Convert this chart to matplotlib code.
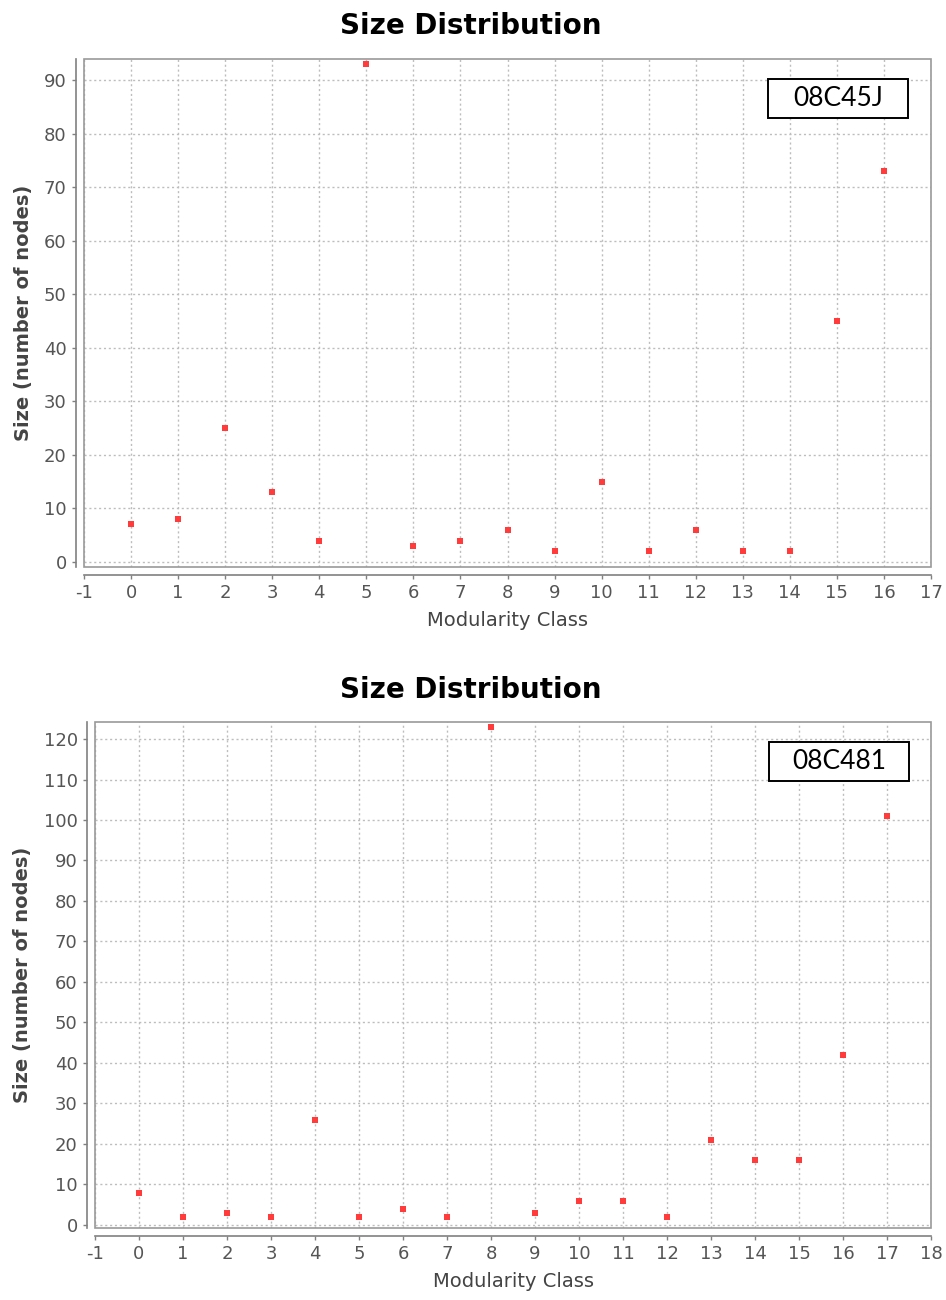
import matplotlib.pyplot as plt
from matplotlib import patches

plt.rcParams["axes.unicode_minus"] = False

# ---- data ----
classes_a = list(range(17))
sizes_a = [7, 8, 25, 13, 4, 93, 3, 4, 6, 2, 15, 2, 6, 2, 2, 45, 73]
label_a = "08C45J"

classes_b = list(range(18))
sizes_b = [8, 2, 3, 2, 26, 2, 4, 2, 123, 3, 6, 6, 2, 21, 16, 16, 42, 101]
label_b = "08C481"

title = "Size Distribution"
xlabel = "Modularity Class"
ylabel = "Size (number of nodes)"

W, H = 946, 1300
fig = plt.figure(figsize=(W / 100, H / 100), dpi=100)


def px_box(left, top, right, bottom):
    """Convert pixel box to figure fraction rect."""
    return [left / W, 1 - bottom / H, (right - left) / W, (bottom - top) / H]


def draw_panel(ax, x, y, xlim, ylim, yticks, tag):
    ax.set_xlim(*xlim)
    ax.set_ylim(*ylim)
    ax.set_xticks(range(int(xlim[0]), int(xlim[1]) + 1))
    ax.set_yticks(yticks)
    ax.grid(True, color="#bdbdbd", linestyle=(0, (1.5, 2)), linewidth=1.0)
    ax.set_axisbelow(True)

    ax.scatter(x, y, marker="s", s=14, color="#ff3b3b", linewidths=0, zorder=3)

    # offset axis lines (JFreeChart style) plus a frame round the plot area
    for side in ("left", "bottom"):
        ax.spines[side].set_position(("outward", 6))
        ax.spines[side].set_color("#808080")
        ax.spines[side].set_linewidth(1.2)
    for side in ("top", "right"):
        ax.spines[side].set_visible(False)
    ax.add_patch(
        patches.Rectangle(
            (0, 0), 1, 1, transform=ax.transAxes, fill=False,
            edgecolor="#9a9a9a", linewidth=1.2, clip_on=False, zorder=4,
        )
    )

    ax.tick_params(axis="both", colors="#808080", length=3, width=1,
                   labelcolor="#555555", labelsize=13)
    ax.set_xlabel(xlabel, fontsize=14, color="#444444", labelpad=6)
    ax.set_ylabel(ylabel, fontsize=14, color="#444444", fontweight="bold",
                  labelpad=8)

    # sample tag box
    bw, bh = 140 / (ax.bbox.width), 39 / (ax.bbox.height)
    cx, cy = 0.890, 0.922
    ax.add_patch(
        patches.Rectangle(
            (cx - bw / 2, cy - bh / 2), bw, bh, transform=ax.transAxes,
            facecolor="white", edgecolor="black", linewidth=1.4, zorder=5,
        )
    )
    ax.text(cx, cy, tag, transform=ax.transAxes, ha="center", va="center",
            fontsize=19, family="Lato", color="black", zorder=6)


ax1 = fig.add_axes(px_box(84, 59, 931, 567))
draw_panel(ax1, classes_a, sizes_a, (-1, 17), (-0.95, 94.0),
           range(0, 91, 10), label_a)
fig.text(471 / W, 1 - 26 / H, title, ha="center", va="center",
         fontsize=20, fontweight="bold", color="black")

ax2 = fig.add_axes(px_box(95, 722, 931, 1228))
draw_panel(ax2, classes_b, sizes_b, (-1, 18), (-0.75, 124.2),
           range(0, 121, 10), label_b)
fig.text(471 / W, 1 - 690 / H, title, ha="center", va="center",
         fontsize=20, fontweight="bold", color="black")

fig.savefig("out.png", dpi=100, facecolor="white")
